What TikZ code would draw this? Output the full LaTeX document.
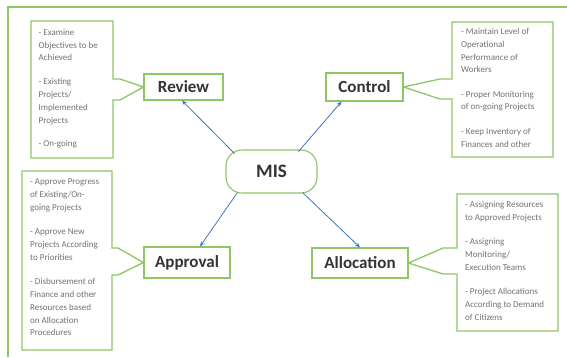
\documentclass[tikz,border=0pt]{standalone}
\usepackage{fontspec}
\setmainfont{Carlito}
\usetikzlibrary{arrows.meta}
\definecolor{grn}{HTML}{8CC665}
\definecolor{arrowblue}{HTML}{4472C4}
\definecolor{txtgray}{HTML}{727272}
\definecolor{headtxt}{HTML}{333333}
\begin{document}
\begin{tikzpicture}[x=1pt,y=-1pt,
  head/.style={draw=grn, line width=1.1pt, fill=white, inner sep=0pt,
    font=\fontsize{17}{20}\selectfont\bfseries, text=headtxt},
  callout/.style={draw=grn, line width=1.3pt, line join=miter},
  note/.style={anchor=north west, inner sep=0pt, align=left, text=txtgray,
    font=\fontsize{9}{12.8}\selectfont},
  link/.style={draw=arrowblue, line width=0.8pt, -{Stealth[length=5pt,width=4pt]}}]
\useasboundingbox (0,0) rectangle (567,357);
\fill[white] (0,0) rectangle (567,357);
% outer frame (top and left)
\draw[grn, line width=1.3pt] (8,357) -- (8,7) -- (567,7);

% header nodes
\node[head, minimum width=79pt, minimum height=26pt] (review) at (183.5,87) {Review};
\node[head, minimum width=77pt, minimum height=28pt] (control) at (364.5,87) {Control};
\node[head, minimum width=86pt, minimum height=31pt] (approval) at (187,262.5) {Approval};
\node[head, minimum width=96pt, minimum height=30pt] (allocation) at (360,263) {Allocation};
\node[head, rounded corners=16pt, minimum width=91pt, minimum height=43pt,
  font=\fontsize{19}{22}\selectfont\bfseries] (mis) at (271.5,171.5) {MIS};

% callouts
\draw[callout] (31,21) -- (113,21) -- (113,79) -- (120,79) -- (review.west)
  -- (120,100) -- (113,100) -- (113,158) -- (31,158) -- cycle;
\draw[callout] (452,22) -- (553,22) -- (553,157) -- (452,157) -- (452,99)
  -- (440,99) -- (control.east) -- (440,79) -- (452,79) -- cycle;
\draw[callout] (22,171) -- (112,171) -- (112,248) -- (118,248) -- (approval.west)
  -- (118,275) -- (112,275) -- (112,350) -- (22,350) -- cycle;
\draw[callout] (457,194) -- (558,194) -- (558,331) -- (457,331) -- (457,274)
  -- (443,274) -- (allocation.east) -- (443,248) -- (457,248) -- cycle;

% callout texts
\node[note] (reviewtxt) at (38.5,29) {- Examine\\Objectives to be\\Achieved\\[11pt]- Existing\\Projects/\\Implemented\\Projects\\[11pt]- On-going};
\node[note] (controltxt) at (461,28) {- Maintain Level of\\Operational\\Performance of\\Workers\\[11.5pt]- Proper Monitoring\\of on-going Projects\\[11.5pt]- Keep Inventory of\\Finances and other};
\node[note] (approvaltxt) at (30,179) {- Approve Progress\\of Existing/On-\\going Projects\\[11.5pt]- Approve New\\Projects According\\to Priorities\\[11.5pt]- Disbursement of\\Finance and other\\Resources based\\on Allocation\\Procedures};
\node[note] (allocationtxt) at (465,201) {- Assigning Resources\\to Approved Projects\\[11.5pt]- Assigning\\Monitoring/\\Execution Teams\\[11.5pt]- Project Allocations\\According to Demand\\of Citizens};

% arrows
\draw[link] ([xshift=-37pt,yshift=18pt]mis.center) -- ([xshift=-1.5pt]review.south);
\draw[link] ([xshift=27pt,yshift=20pt]mis.center) -- ([xshift=-23pt]control.south);
\draw[link] ([xshift=-34pt,yshift=-21pt]mis.center) -- ([xshift=13pt]approval.north);
\draw[link] ([xshift=31pt,yshift=-21pt]mis.center) -- (allocation.north);
\end{tikzpicture}
\end{document}
